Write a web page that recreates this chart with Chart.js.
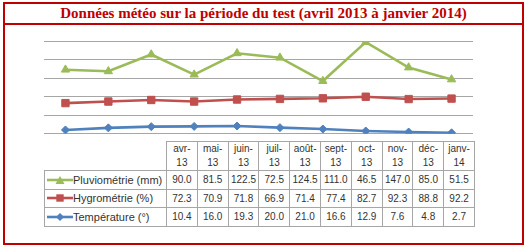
<!DOCTYPE html>
<html>
<head>
<meta charset="utf-8">
<script src="https://cdn.jsdelivr.net/npm/chart.js@4/dist/chart.umd.min.js"></script>
<style>
  body { margin: 0; width: 527px; height: 249px; position: relative; background: #fff; overflow: hidden; }
  #frame { position: absolute; left: 3px; top: 2px; width: 517px; height: 239px; border: 2px solid #c00000; }
  #title { position: absolute; left: 0; top: 0; width: 517px; height: 19px; border-bottom: 2px solid #c00000;
    font: bold 15px "Liberation Serif", serif; color: #c00000; text-align: center; line-height: 19px; }
  #wrap { position: absolute; left: 30px; top: 28px; width: 460px; height: 112px; }
  #tbl { position: absolute; left: 44px; top: 141px; width: 430px; border-collapse: collapse; table-layout: fixed;
    font: 10px "Liberation Sans", sans-serif; color: #333; }
  #tbl td { border: 1px solid #a6a6a6; padding: 0; text-align: center; white-space: nowrap; overflow: hidden; }
  #tbl tr.head td { height: 28px; line-height: 14px; }
  #tbl tr.row td { height: 17.5px; }
  #tbl td.blank { border-top: none; border-left: none; }
  #tbl td.lab { text-align: left; font-size: 11px; padding-left: 2px; }
  #tbl td.lab svg { vertical-align: -1px; }
</style>
</head>
<body>
<div id="frame"><div id="title">Données météo sur la période du test (avril 2013 à janvier 2014)</div></div>
<div id="wrap"><canvas id="chart"></canvas></div>
<table id="tbl"></table>
<script>
const months = ["avr-13", "mai-13", "juin-13", "juil-13", "août-13", "sept-13", "oct-13", "nov-13", "déc-13", "janv-14"];
const pluvio = [90.0, 81.5, 122.5, 72.5, 124.5, 111.0, 46.5, 147.0, 85.0, 51.5];
const hygro = [72.3, 70.9, 71.8, 66.9, 71.4, 77.4, 82.7, 92.3, 88.8, 92.2];
const temp = [10.4, 16.0, 19.3, 20.0, 21.0, 16.6, 12.9, 7.6, 4.8, 2.7];

const GREEN = "#9bbb59", RED = "#c0504d", BLUE = "#4f81bd";

// the lines are stacked (temperature at the bottom), as in the original sheet
const ctx = document.getElementById("chart").getContext("2d");
new Chart(ctx, {
  type: "line",
  data: {
    labels: months,
    datasets: [
      { label: "Température (°)", data: temp, borderColor: BLUE, backgroundColor: BLUE,
        pointStyle: "rectRot", pointRadius: 4 },
      { label: "Hygrométrie (%)", data: hygro, borderColor: RED, backgroundColor: RED,
        pointStyle: "rect", pointRadius: 5.2 },
      { label: "Pluviométrie (mm)", data: pluvio, borderColor: GREEN, backgroundColor: GREEN,
        pointStyle: "triangle", pointRadius: 4.8 },
    ],
  },
  options: {
    responsive: true,
    maintainAspectRatio: false,
    animation: false,
    layout: { padding: { left: 14, right: 17, top: 13, bottom: 6 } },
    elements: { line: { borderWidth: 2.6, tension: 0, fill: false }, point: { borderWidth: 1 } },
    plugins: { legend: { display: false }, tooltip: { enabled: false } },
    scales: {
      x: { type: "category", offset: true, display: false },
      y: {
        stacked: true,
        min: 0,
        max: 250,
        ticks: { stepSize: 50, display: false },
        border: { display: false },
        grid: { color: "#a6a6a6", lineWidth: 1, drawTicks: false },
      },
    },
  },
});

// data table under the chart
function swatch(color, shape) {
  let m = "";
  if (shape === "tri") m = `<polygon points="13,1 17.5,9 8.5,9" fill="${color}"/>`;
  if (shape === "sq") m = `<rect x="9.3" y="1.3" width="7.4" height="7.4" fill="${color}"/>`;
  if (shape === "dia") m = `<polygon points="13,1 17,5 13,9 9,5" fill="${color}"/>`;
  return `<svg width="26" height="10"><line x1="0" y1="5" x2="26" y2="5" stroke="${color}" stroke-width="2.6"/>${m}</svg>`;
}

const rows = [
  ["Pluviométrie (mm)", pluvio, GREEN, "tri"],
  ["Hygrométrie (%)", hygro, RED, "sq"],
  ["Température (°)", temp, BLUE, "dia"],
];

let html = `<colgroup><col style="width:122px">` + months.map(() => `<col style="width:30.8px">`).join("") + `</colgroup>`;
html += `<tr class="head"><td class="blank"></td>` +
  months.map(m => { const p = m.split("-"); return `<td>${p[0]}-<br>${p[1]}</td>`; }).join("") + `</tr>`;
rows.forEach(r => {
  html += `<tr class="row"><td class="lab">${swatch(r[2], r[3])}${r[0]}</td>` +
    r[1].map(v => `<td>${v.toFixed(1)}</td>`).join("") + `</tr>`;
});
document.getElementById("tbl").innerHTML = html;
</script>
</body>
</html>
